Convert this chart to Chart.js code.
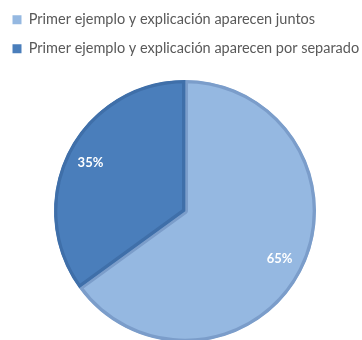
<!DOCTYPE html>
<html>
<head>
<meta charset="utf-8">
<script src="https://cdn.jsdelivr.net/npm/chart.js@4/dist/chart.umd.min.js"></script>
<style>
  html, body { margin: 0; padding: 0; background: #fff; overflow: hidden; width: 362px; height: 340px; }
  #wrap { position: absolute; left: -2px; top: -2px; width: 374px; height: 358px; }
</style>
</head>
<body>
<div id="wrap"><canvas id="pie"></canvas></div>
<script>
// ── data ──
const LABELS = [
    'Primer ejemplo y explicación aparecen juntos',
    'Primer ejemplo y explicación aparecen por separado'
];
const VALUES = [65, 35];
const FILL = ['#95b8e1', '#4a7ebb'];
const EDGE = ['#7b9dca', '#3f6fa9'];
const TEXT = '#595959';

// percent text inside each slice
const sliceLabels = {
    id: 'sliceLabels',
    afterDatasetsDraw(chart) {
        const ctx = chart.ctx;
        const meta = chart.getDatasetMeta(0);
        const total = VALUES.reduce((a, b) => a + b, 0);
        ctx.save();
        ctx.fillStyle = '#ffffff';
        ctx.font = 'bold 13px Lato';
        ctx.textAlign = 'center';
        ctx.textBaseline = 'middle';
        meta.data.forEach((arc, i) => {
            const p = arc.getProps(['x', 'y', 'startAngle', 'endAngle', 'outerRadius'], true);
            const mid = (p.startAngle + p.endAngle) / 2;
            const r = p.outerRadius * 0.81;
            const pct = Math.round(VALUES[i] / total * 100) + '%';
            ctx.fillText(pct, p.x + Math.cos(mid) * r, p.y + Math.sin(mid) * r);
        });
        ctx.restore();
    }
};

new Chart(document.getElementById('pie'), {
    type: 'pie',
    data: {
        labels: LABELS,
        datasets: [{
            data: VALUES,
            backgroundColor: FILL,
            borderColor: EDGE,
            borderWidth: 3,
            borderAlign: 'inner',
            radius: 131
        }]
    },
    options: {
        responsive: true,
        maintainAspectRatio: false,
        animation: false,
        plugins: {
            legend: {
                position: 'top',
                align: 'start',
                labels: {
                    color: TEXT,
                    boxWidth: 9,
                    boxHeight: 9,
                    padding: 14.5,
                    font: { family: 'Lato', size: 14.5 },
                    generateLabels(chart) {
                        return LABELS.map((t, i) => ({
                            text: t,
                            fillStyle: FILL[i],
                            strokeStyle: FILL[i],
                            lineWidth: 0,
                            fontColor: TEXT,
                            index: i
                        }));
                    }
                }
            },
            tooltip: { enabled: false }
        }
    },
    plugins: [sliceLabels]
});
</script>
</body>
</html>
